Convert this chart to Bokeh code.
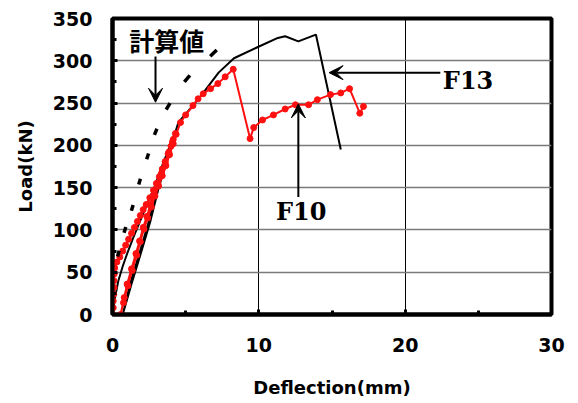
import numpy as np
from bokeh.plotting import figure
from bokeh.models import Range1d, Arrow, VeeHead, Label, FixedTicker
from bokeh.embed import file_html
from bokeh.resources import INLINE

# F13 specimen: load (kN) vs deflection (mm), one unload/reload cycle then envelope
f13_defl = [0.0, 0.15, 0.4, 0.7, 1.0, 1.4, 1.8, 2.3, 2.9, 3.4, 3.8, 4.2,
            3.6, 3.0, 2.5, 1.9, 1.2, 0.7,
            1.3, 2.0, 2.6, 3.1, 3.7, 4.2, 4.5, 5.3, 6.2, 7.25, 8.3, 9.9,
            11.3, 11.8, 12.7, 13.9, 15.6]
f13_load = [0, 18, 40, 57, 72, 90, 107, 128, 152, 176, 194, 212,
            180, 146, 111, 76, 36, 0,
            36, 76, 111, 146, 182, 210, 227, 243, 262, 286, 303, 316,
            327, 329, 323, 331, 195]

# F10 specimen
f10_defl = [0.0, 0.05, 0.05, 0.08, 0.1, 0.1, 0.12, 0.15, 0.3, 0.5, 0.7, 0.9,
            1.1, 1.3, 1.5, 1.7, 1.9, 2.1, 2.3, 2.55, 2.8, 3.0, 3.2, 3.4,
            3.6, 3.8, 4.0, 4.15, 4.3,
            4.1, 3.85, 3.6, 3.35, 3.1, 2.85, 2.6, 2.35, 2.1, 1.85, 1.6, 1.3,
            1.0, 0.8, 0.55,
            0.75, 1.05, 1.35, 1.65, 1.9, 2.15, 2.4, 2.65, 2.9, 3.15, 3.4,
            3.65, 3.9, 4.15, 4.35,
            4.65, 5.0, 5.5, 5.85, 6.2, 6.7, 7.2, 7.7, 8.25,
            9.4, 9.65, 10.25, 11.0, 11.8, 12.5, 13.4, 14.0, 14.9, 15.6,
            16.2, 16.9, 17.15]
f10_load = [0, 8, 16, 24, 32, 40, 48, 55, 62, 68, 75, 82,
            89, 96, 103, 110, 117, 124, 130, 138, 147, 155, 163, 172,
            181, 190, 199, 207, 214,
            204, 192, 179, 167, 155, 143, 130, 116, 103, 87, 72, 54,
            36, 20, 0,
            14, 34, 52, 70, 86, 101, 114, 127, 140, 152, 164,
            176, 189, 202, 213,
            227, 236, 247, 255, 261, 267, 273, 281, 290,
            208, 221, 230, 236, 243, 248, 248, 254, 260, 262,
            267, 238, 246]

# calculated values (計算値)
calc_defl = [0.4, 0.85, 1.35, 1.85, 2.4, 2.95, 3.8, 5.1, 6.9]
calc_load = [72, 100, 126, 157, 187, 216, 246, 279, 309]

x_ticks = [0, 10, 20, 30]
y_ticks = [0, 50, 100, 150, 200, 250, 300, 350]

W, H = 578, 403
BL, BR, BT, BB = 112, 27, 18, 89
X_MAX, Y_MAX = 30, 350

p = figure(width=W, height=H, x_range=Range1d(0, X_MAX), y_range=Range1d(0, Y_MAX),
           output_backend="svg", toolbar_location=None,
           min_border_left=BL, min_border_right=BR,
           min_border_top=BT, min_border_bottom=BB)

p.background_fill_color = "white"
p.border_fill_color = "white"
p.outline_line_color = "black"
p.outline_line_width = 4

# grid: grey horizontals, black verticals
p.ygrid.grid_line_color = "#7a7a7a"
p.ygrid.grid_line_width = 1.5
p.xgrid.grid_line_color = "black"
p.xgrid.grid_line_width = 1

tick_font = "DejaVu Sans"
for ax, ticks in ((p.xaxis, x_ticks), (p.yaxis, y_ticks)):
    ax.ticker = FixedTicker(ticks=ticks,
                            minor_ticks=[t + (ticks[1] - ticks[0]) / 2 for t in ticks[:-1]])
    ax.axis_line_width = 4
    ax.axis_line_color = "black"
    ax.major_tick_in = 5
    ax.major_tick_out = 0
    ax.minor_tick_in = 4
    ax.minor_tick_out = 0
    ax.major_tick_line_width = 3
    ax.minor_tick_line_width = 3
    ax.major_label_text_font = tick_font
    ax.major_label_text_font_style = "bold"
    ax.major_label_text_font_size = "19px"
    ax.major_label_text_color = "black"
    ax.axis_label_text_font = tick_font
    ax.axis_label_text_font_style = "bold"
    ax.axis_label_text_font_size = "18px"
    ax.axis_label_text_color = "black"

p.xaxis.axis_label = "Deflection(mm)"
p.yaxis.axis_label = "Load(kN)"
p.xaxis.major_label_standoff = 23
p.yaxis.major_label_standoff = 20
p.xaxis.axis_label_standoff = 22
p.yaxis.axis_label_standoff = 14

# curves
p.line(f13_defl, f13_load, line_color="black", line_width=2)
p.line(f10_defl, f10_load, line_color="#ff1010", line_width=2)
p.scatter(f10_defl, f10_load, marker="circle", size=6,
          fill_color="#ff1010", line_color="#ff1010")

# calculated values: short dashes oriented along the calculated curve,
# shorter where the curve is steep
sx = (W - BL - BR) / X_MAX
sy = (H - BT - BB) / Y_MAX
cx = np.array(calc_defl) * sx
cy = np.array(calc_load) * sy
ang = np.arctan2(np.gradient(cy), np.gradient(cx))
dash_len = 4 + 7 * np.cos(ang)
p.scatter(calc_defl, calc_load, marker="dash", size=dash_len, angle=ang,
          line_color="black", line_width=3.5)

# annotations
label_font = "Noto Sans CJK JP"
p.add_layout(Label(x=3.7, y=324, text="計算値", text_font=label_font,
                   text_font_style="bold", text_font_size="25px",
                   text_color="black",
                   text_align="center", text_baseline="middle"))
p.add_layout(Label(x=24.3, y=277, text="F13", text_font="DejaVu Serif",
                   text_font_style="bold", text_font_size="24px",
                   text_color="black",
                   text_align="center", text_baseline="middle"))
p.add_layout(Label(x=12.9, y=122, text="F10", text_font="DejaVu Serif",
                   text_font_style="bold", text_font_size="24px",
                   text_color="black",
                   text_align="center", text_baseline="middle"))

def arrow(x0, y0, x1, y1):
    p.add_layout(Arrow(end=VeeHead(size=14, fill_color="black", line_color="black",
                                   line_width=1),
                       x_start=x0, y_start=y0, x_end=x1, y_end=y1,
                       line_color="black", line_width=2))

arrow(2.94, 305, 2.94, 251)
arrow(22.4, 286, 14.8, 286)
arrow(12.7, 139, 12.7, 249)

open("out.html", "w").write(file_html(p, INLINE))
